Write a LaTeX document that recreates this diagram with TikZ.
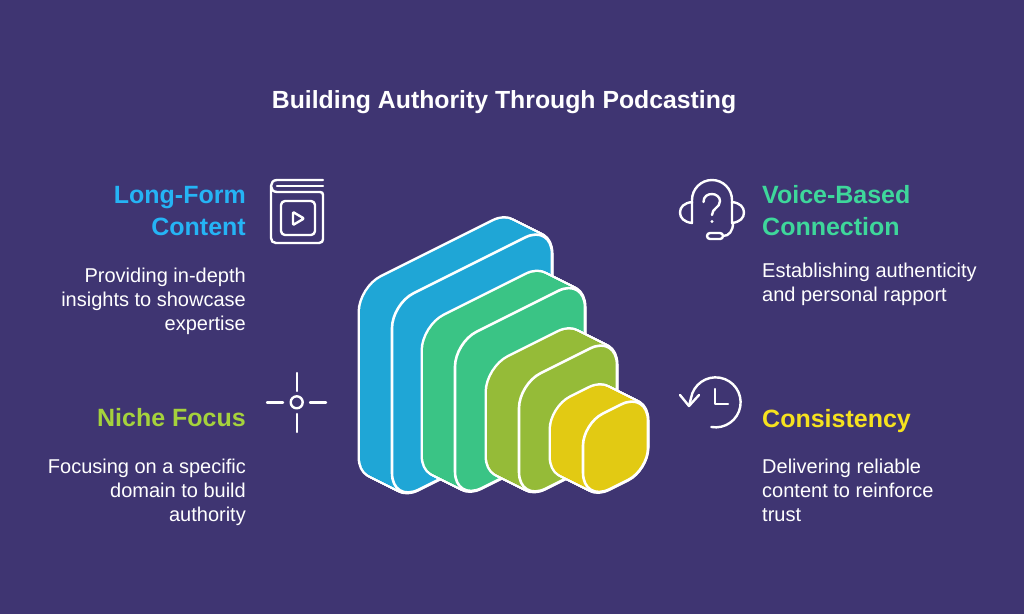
\documentclass[tikz,border=0pt]{standalone}
\usepackage{fontspec}
\setmainfont{Liberation Sans}
\definecolor{bgc}{HTML}{3F3572}
\definecolor{cblue}{HTML}{1FA6D6}
\definecolor{cgreen}{HTML}{3AC485}
\definecolor{colive}{HTML}{95BB38}
\definecolor{cyellow}{HTML}{E2CA13}
\definecolor{tblue}{HTML}{25B4F5}
\definecolor{tgreen}{HTML}{3ED79B}
\definecolor{tolive}{HTML}{A5D23C}
\definecolor{tyellow}{HTML}{F6E21E}
\tikzset{
  titletext/.style={font=\bfseries\fontsize{24.8}{28}\selectfont,text=white,inner sep=0pt},
  headtext/.style={font=\bfseries\fontsize{25}{32}\selectfont,inner sep=0pt},
  bodytext/.style={font=\fontsize{20}{24}\selectfont,text=white,inner sep=0pt},
  icon/.style={draw=white,line width=2.4pt,line cap=round,line join=round},
}
\newcommand{\faceshape}[6]{
  (#1,#2+#4/2) [rounded corners=#5 pt] -- (#1,#2)
  [rounded corners=#6 pt] -- (#1+#3,#2-#3/2)
  [rounded corners=#5 pt] -- (#1+#3,#2-#3/2+#4)
  [rounded corners=#6 pt] -- (#1,#2+#4)
  [sharp corners] -- cycle
}
\newcommand{\prismshape}[7]{
  \foreach \t in {32,31,...,1}{
    \draw[white,line width=5pt] \faceshape{#1-\t}{#2-\t/2}{#3}{#4}{#6}{#7};
  }
  \foreach \t in {32,31,...,1}{
    \fill[#5] \faceshape{#1-\t}{#2-\t/2}{#3}{#4}{#6}{#7};
  }
  \draw[white,line width=2.6pt,fill=#5] \faceshape{#1}{#2}{#3}{#4}{#6}{#7};
}
\begin{document}
\begin{tikzpicture}[x=1pt,y=-1pt]
\useasboundingbox (0,0) rectangle (1024,614);
\fill[bgc] (0,0) rectangle (1024,614);

\node[titletext,anchor=base] (title) at (504,108) {Building Authority Through Podcasting};

\prismshape{392}{304}{160}{199}{cblue}{24}{30}
\prismshape{455}{342.5}{130}{159}{cgreen}{24}{30}
\prismshape{519}{384}{98}{118}{colive}{24}{30}
\prismshape{583}{423.5}{65}{79}{cyellow}{22}{30}

% left texts
\node[headtext,text=tblue,align=right,anchor=north east] (h1) at (246,186) {Long-Form\\Content};
\node[bodytext,align=right,anchor=north east] (b1) at (246,268) {Providing in-depth\\insights to showcase\\expertise};
\node[headtext,text=tolive,align=right,anchor=north east] (h2) at (246,408) {Niche Focus};
\node[bodytext,align=right,anchor=north east] (b2) at (246,459) {Focusing on a specific\\domain to build\\authority};
% right texts
\node[headtext,text=tgreen,align=left,anchor=north west] (h3) at (762,185) {Voice-Based\\Connection};
\node[bodytext,align=left,anchor=north west] (b3) at (762,263) {Establishing authenticity\\and personal rapport};
\node[headtext,text=tyellow,align=left,anchor=north west] (h4) at (762,409) {Consistency};
\node[bodytext,align=left,anchor=north west] (b4) at (762,459) {Delivering reliable\\content to reinforce\\trust};

% book icon
\draw[icon] (323,180) -- (277,180) .. controls (273,180) and (271,183) .. (271,186)
  -- (271,238) .. controls (271,241) and (273,243) .. (276,243) -- (319,243)
  .. controls (322,243) and (323,241) .. (323,239) -- (323,195)
  .. controls (323,193) and (322,192) .. (320,192) -- (277,192)
  .. controls (273,192) and (271,189) .. (271,186);
\draw[icon] (277,186) -- (323,186);
\draw[icon,rounded corners=4pt] (281,201) rectangle (315,235);
\draw[icon,rounded corners=1pt] (293,212) -- (304,218.5) -- (293,225) -- cycle;

% crosshair icon
\draw[icon] (296.7,402.3) circle (6);
\draw[icon] (296.7,373) -- (296.7,391);
\draw[icon] (296.7,414) -- (296.7,432);
\draw[icon] (267,402.3) -- (283,402.3);
\draw[icon] (310,402.3) -- (326,402.3);

% headset icon
\draw[icon] (692,203) -- (692,200) arc[start angle=180,end angle=360,radius=20] -- (732,203);
\draw[icon] (692,202) .. controls (684,203) and (680,207) .. (680,212.5) .. controls (680,218) and (684,222) .. (692,223) -- cycle;
\draw[icon] (732,202) .. controls (740,203) and (744,207) .. (744,212.5) .. controls (744,218) and (740,222) .. (732,223) -- cycle;
\draw[icon] (733,223) .. controls (733,231) and (729,236) .. (723,236);
\draw[icon,rounded corners=3pt] (707,233) rectangle (723,239);
\draw[icon] (703.5,202) .. controls (703.5,196) and (708,194) .. (712,194) .. controls (716,194) and (720,197) .. (720,201) .. controls (720,208) and (712,208) .. (712,215);
\fill[white] (712,221.5) circle (1.6);

% clock icon
\draw[icon] (691,398) arc[start angle=190,end angle=460,radius=25];
\draw[icon] (680,395) -- (689,406) -- (699,395);
\draw[icon] (689,406) -- (691,398);
\draw[icon] (715,389) -- (715,404) -- (728,404);
\end{tikzpicture}
\end{document}
